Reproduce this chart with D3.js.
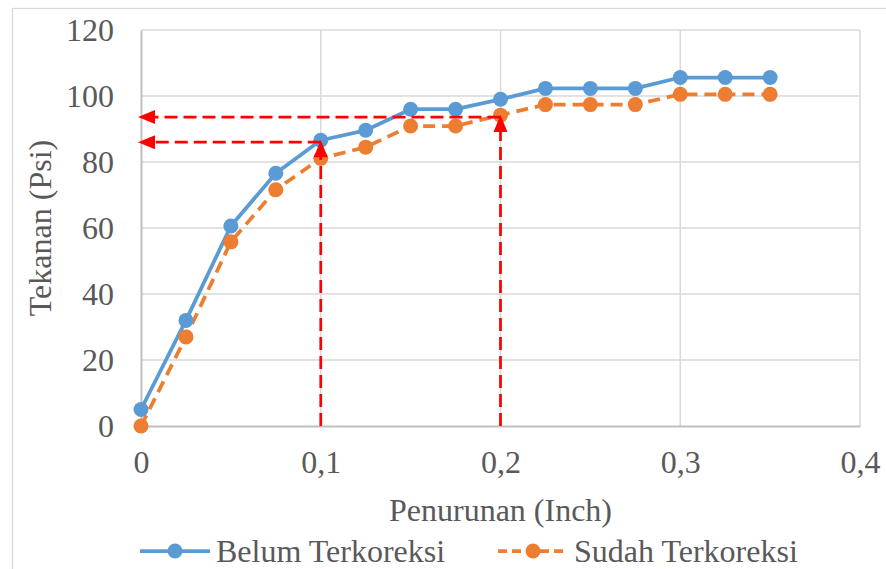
<!DOCTYPE html>
<html>
<head>
<meta charset="utf-8">
<script src="https://cdn.jsdelivr.net/npm/d3@7"></script>
<style>
  html, body { margin: 0; padding: 0; background: #fff; }
  svg { display: block; }
  text { font-family: "Liberation Serif", "Times New Roman", serif; fill: #595959; }
</style>
</head>
<body>
<script>
// Penetration (inch) vs. pressure (psi), before and after correction
const penurunan = [0, 0.025, 0.05, 0.075, 0.1, 0.125, 0.15, 0.175, 0.2, 0.225, 0.25, 0.275, 0.3, 0.325, 0.35];
const belumTerkoreksi = [5, 32, 60.6, 76.6, 86.6, 89.6, 96, 96, 99, 102.3, 102.3, 102.3, 105.6, 105.6, 105.6];
const sudahTerkoreksi = [0, 27, 55.8, 71.6, 81.1, 84.5, 90.9, 90.9, 94.2, 97.4, 97.4, 97.4, 100.5, 100.5, 100.5];
const yTicks = [0, 20, 40, 60, 80, 100, 120];
const xTicks = [0, 0.1, 0.2, 0.3, 0.4];
const seriesNames = ["Belum Terkoreksi", "Sudah Terkoreksi"];
// Read-off guides: penetration and the pressure read at it
const guideX = [0.1, 0.2];
const guideY = [86, 93.6];

const W = 886, H = 569;
const blue = "#5b9bd5", orange = "#ed7d31", red = "#ff0000";
const FS = "32px";

const svg = d3.select("body").append("svg").attr("width", W).attr("height", H);

// chart frame
svg.append("rect").attr("x", 12.5).attr("y", 8.5).attr("width", 900).attr("height", 600)
  .attr("fill", "#fff").attr("stroke", "#d9d9d9").attr("stroke-width", 1.3);

const x = d3.scaleLinear().domain([0, 0.4]).range([141, 860]);
const y = d3.scaleLinear().domain([0, 120]).range([426, 30]);

// gridlines
svg.append("g").selectAll("line.h").data(yTicks.filter(d => d > 0)).join("line")
  .attr("x1", x(0)).attr("x2", x(0.4)).attr("y1", d => y(d)).attr("y2", d => y(d))
  .attr("stroke", "#d9d9d9").attr("stroke-width", 1.5);
svg.append("g").selectAll("line.v").data(xTicks.filter(d => d > 0)).join("line")
  .attr("y1", y(0)).attr("y2", y(120)).attr("x1", d => x(d)).attr("x2", d => x(d))
  .attr("stroke", "#d9d9d9").attr("stroke-width", 1.5);

// axes
const yAxis = svg.append("g").attr("transform", `translate(${x(0)},0)`)
  .call(d3.axisLeft(y).tickValues(yTicks).tickSize(0).tickPadding(27).tickFormat(d3.format("d")));
const xAxis = svg.append("g").attr("transform", `translate(0,${y(0)})`)
  .call(d3.axisBottom(x).tickValues(xTicks).tickSize(0).tickPadding(24)
    .tickFormat(d => d === 0 ? "0" : String(d).replace(".", ",")));
[yAxis, xAxis].forEach(g => {
  g.select(".domain").attr("stroke", "#bfbfbf").attr("stroke-width", 2);
  g.selectAll("text").style("font-size", FS).style("font-family", "'Liberation Serif', serif").attr("fill", "#595959");
});

// axis titles
svg.append("text").attr("x", (x(0) + x(0.4)) / 2).attr("y", 521).attr("text-anchor", "middle")
  .style("font-size", FS).text("Penurunan (Inch)");
svg.append("text").attr("transform", `translate(51,${(y(0) + y(120)) / 2}) rotate(-90)`)
  .attr("text-anchor", "middle").style("font-size", FS).text("Tekanan (Psi)");

// series
const line = d3.line().x(d => x(d[0])).y(d => y(d[1]));
const s1 = penurunan.map((p, i) => [p, belumTerkoreksi[i]]);
const s2 = penurunan.map((p, i) => [p, sudahTerkoreksi[i]]);

svg.append("path").datum(s1).attr("d", line).attr("fill", "none")
  .attr("stroke", blue).attr("stroke-width", 3.75).attr("stroke-linejoin", "round");
svg.append("path").datum(s2).attr("d", line).attr("fill", "none")
  .attr("stroke", orange).attr("stroke-width", 3.75).attr("stroke-dasharray", "12,7");

svg.append("g").selectAll("circle").data(s2).join("circle")
  .attr("cx", d => x(d[0])).attr("cy", d => y(d[1])).attr("r", 7.5).attr("fill", orange);
svg.append("g").selectAll("circle").data(s1).join("circle")
  .attr("cx", d => x(d[0])).attr("cy", d => y(d[1])).attr("r", 7.5).attr("fill", blue);

// read-off guides with arrowheads
const guides = svg.append("g");
guideX.forEach((gx, i) => {
  const px = x(gx), py = y(guideY[i]);
  // vertical from the axis up to the curve
  guides.append("line").attr("x1", px).attr("x2", px).attr("y1", y(0)).attr("y2", py + 14)
    .attr("stroke", red).attr("stroke-width", 2.75).attr("stroke-dasharray", "13,6");
  guides.append("path")
    .attr("d", `M${px},${py - 2} L${px - 7},${py + 15} L${px + 7},${py + 15} Z`).attr("fill", red);
  // horizontal from the curve back to the pressure axis
  guides.append("line").attr("x1", px).attr("x2", x(0) + 14).attr("y1", py).attr("y2", py)
    .attr("stroke", red).attr("stroke-width", 2.75).attr("stroke-dasharray", "13,6");
  guides.append("path")
    .attr("d", `M${x(0) - 3},${py} L${x(0) + 14},${py - 7} L${x(0) + 14},${py + 7} Z`).attr("fill", red);
});

// legend
const legend = svg.append("g");
const legendItems = [
  { name: seriesNames[0], color: blue, dash: null, x0: 140 },
  { name: seriesNames[1], color: orange, dash: "9,5", x0: 498 }
];
legendItems.forEach(it => {
  const ly = 551;
  legend.append("line").attr("x1", it.x0).attr("x2", it.x0 + 70).attr("y1", ly).attr("y2", ly)
    .attr("stroke", it.color).attr("stroke-width", 3.75).attr("stroke-dasharray", it.dash);
  legend.append("circle").attr("cx", it.x0 + 35).attr("cy", ly).attr("r", 7.5).attr("fill", it.color);
  legend.append("text").attr("x", it.x0 + 76).attr("y", ly + 11).style("font-size", FS).text(it.name);
});
</script>
</body>
</html>
